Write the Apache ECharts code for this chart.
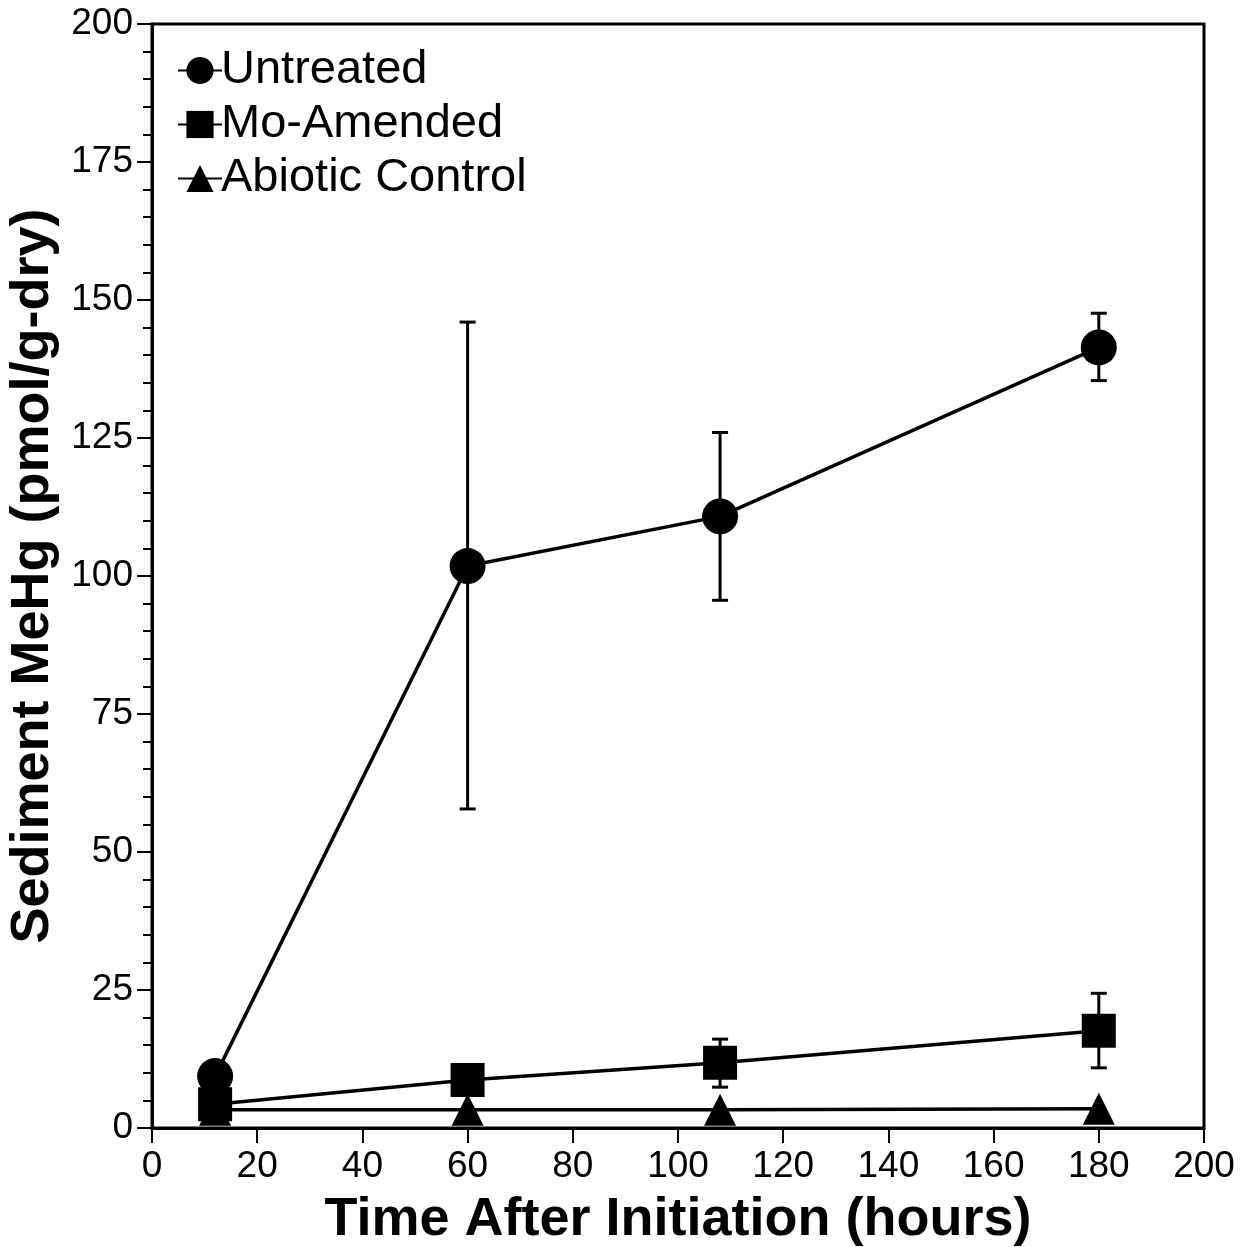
<!DOCTYPE html>
<html>
<head>
<meta charset="utf-8">
<script src="https://cdn.jsdelivr.net/npm/echarts@6/dist/echarts.min.js"></script>
<style>
  html, body { margin: 0; padding: 0; background: #fff; }
  #grafico { width: 1240px; height: 1247px; }
</style>
</head>
<body>
<div id="grafico"></div>
<script>
// Datos
const horas = [12, 60, 108, 180];
const sinTratar = [9.4, 101.8, 110.8, 141.4];
const sinTratarBajo = [9.4, 57.8, 95.6, 135.4];
const sinTratarAlto = [9.4, 146.0, 126.0, 147.6];
const moEnmendado = [4.3, 8.7, 11.8, 17.6];
const moBajo = [4.3, 8.7, 7.4, 10.9];
const moAlto = [4.3, 8.7, 16.1, 24.4];
const abiotico = [3.3, 3.3, 3.3, 3.5];
const ticksY = [0, 25, 50, 75, 100, 125, 150, 175, 200];

const grafico = echarts.init(document.getElementById('grafico'));

function barraError(bajo, alto) {
    return {
        type: 'custom',
        data: horas.map((h, i) => [h, bajo[i], alto[i]]),
        z: 1,
        silent: true,
        renderItem: function(params, api) {
            const x = api.value(0);
            const b = api.coord([x, api.value(1)]);
            const a = api.coord([x, api.value(2)]);
            const w = 8;
            const estilo = { stroke: '#000', lineWidth: 3 };
            return {
                type: 'group',
                children: [
                    { type: 'line', shape: { x1: a[0], y1: a[1], x2: b[0], y2: b[1] }, style: estilo },
                    { type: 'line', shape: { x1: a[0] - w, y1: a[1], x2: a[0] + w, y2: a[1] }, style: estilo },
                    { type: 'line', shape: { x1: b[0] - w, y1: b[1], x2: b[0] + w, y2: b[1] }, style: estilo }
                ]
            };
        }
    };
}

function serieLinea(nombre, valores, simbolo, tam) {
    return {
        name: nombre,
        type: 'line',
        data: horas.map((h, i) => [h, valores[i]]),
        symbol: simbolo,
        symbolSize: tam,
        showAllSymbol: true,
        lineStyle: { color: '#000', width: 3.5 },
        itemStyle: { color: '#000' },
        z: 3
    };
}

grafico.setOption({
    animation: false,
    grid: { left: 152, right: 36, top: 24, bottom: 119, outerBoundsMode: 'none', containLabel: false },
    legend: {
        left: 172,
        top: 42,
        orient: 'vertical',
        itemGap: 7,
        itemWidth: 44,
        itemHeight: 34,
        textStyle: { fontFamily: 'Liberation Sans, Arial', fontSize: 47, color: '#000', padding: [0, 0, 0, -6] },
        data: ['Untreated', 'Mo-Amended', 'Abiotic Control']
    },
    xAxis: {
        type: 'value',
        min: 0,
        max: 200,
        interval: 20,
        name: 'Time After Initiation (hours)',
        nameLocation: 'middle',
        nameGap: 65,
        nameTextStyle: { fontFamily: 'Liberation Sans, Arial', fontSize: 54, fontWeight: 'bold', color: '#000' },
        axisLine: { show: true, lineStyle: { color: '#000', width: 3 } },
        axisTick: { show: true, inside: false, length: 15, lineStyle: { color: '#000', width: 2 } },
        axisLabel: { fontFamily: 'Liberation Sans, Arial', fontSize: 37, color: '#000', margin: 20 },
        splitLine: { show: false }
    },
    yAxis: {
        type: 'value',
        min: 0,
        max: 200,
        interval: 25,
        name: 'Sediment MeHg (pmol/g-dry)',
        nameLocation: 'middle',
        nameGap: 88,
        nameTextStyle: { fontFamily: 'Liberation Sans, Arial', fontSize: 54, fontWeight: 'bold', color: '#000' },
        axisLine: { show: true, lineStyle: { color: '#000', width: 3 } },
        axisTick: { show: true, inside: false, length: 15, lineStyle: { color: '#000', width: 2 } },
        minorTick: { show: true, splitNumber: 5, length: 9, lineStyle: { color: '#000', width: 2 } },
        axisLabel: {
            fontFamily: 'Liberation Sans, Arial', fontSize: 37, color: '#000', margin: 19,
            formatter: v => ticksY.includes(v) ? String(v) : ''
        },
        splitLine: { show: false }
    },
    graphic: [{
        type: 'rect',
        shape: { x: 152, y: 24, width: 1052, height: 1104 },
        style: { fill: 'none', stroke: '#000', lineWidth: 3 },
        silent: true,
        z: 0
    }],
    series: [
        barraError(sinTratarBajo, sinTratarAlto),
        barraError(moBajo, moAlto),
        serieLinea('Untreated', sinTratar, 'circle', 36),
        serieLinea('Mo-Amended', moEnmendado, 'rect', 34),
        serieLinea('Abiotic Control', abiotico, 'triangle', 32)
    ]
});

window.addEventListener('resize', function() {
    grafico.resize();
});
</script>
</body>
</html>
